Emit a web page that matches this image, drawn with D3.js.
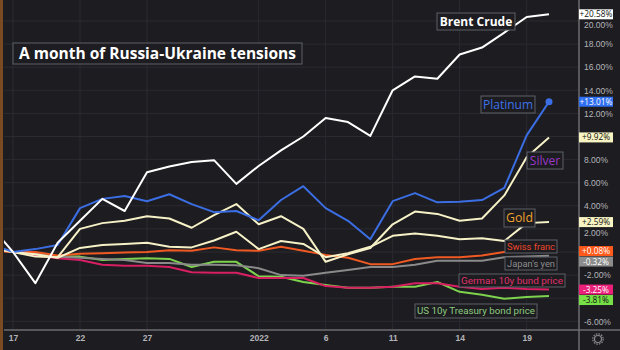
<!DOCTYPE html>
<html>
<head>
<meta charset="utf-8">
<script src="https://cdn.jsdelivr.net/npm/d3@7"></script>
<style>
  body { margin: 0; background: #1c1c21; }
  svg { display: block; }
</style>
</head>
<body>
<div id="chart"></div>
<script>
// trading days, Dec 16 .. Jan 20 (index 0 sits just off the left edge)
const days = ["16","17","20","21","22","23","24","27","28","29","30","31","3","4","5","6","7","10","11","12","13","14","17","18","19","20"];
const tickIdx = [1, 4, 7, 12, 15, 18, 21, 24];
const tickText = ["17", "22", "27", "2022", "6", "11", "14", "19"];
const yTicks = [-6, -4, -2, 0, 2, 4, 6, 8, 10, 12, 14, 16, 18, 20];

// % change
const brent    = [2.25, 0, -2.7, 0.8, 2.7, 4.6, 3.55, 6.9, 7.4, 7.8, 7.95, 5.9, 7.45, 8.8, 10.0, 11.6, 11.25, 10.05, 14.0, 15.2, 15.0, 17.1, 17.7, 19.0, 20.35, 20.58];
const platinum = [0.7, 0, 0.25, 0.6, 3.8, 4.6, 4.85, 4.4, 5.0, 4.15, 3.45, 3.55, 2.75, 4.5, 5.7, 3.8, 2.7, 1.1, 4.4, 5.1, 4.3, 4.35, 4.5, 5.55, 10.1, 13.01];
const silver   = [0.4, 0, -0.4, -0.45, 2.0, 2.5, 2.7, 3.1, 2.9, 2.1, 3.2, 4.15, 2.4, 3.1, 2.0, -0.85, -0.2, 0.35, 2.4, 3.5, 3.3, 2.7, 2.9, 4.9, 8.2, 9.92];
const gold     = [0.3, 0, -0.2, -0.5, 0.35, 0.6, 0.7, 0.8, 0.45, 0.4, 1.0, 1.75, 0.25, 0.95, 0.7, -0.45, -0.1, 0.45, 1.4, 1.6, 1.4, 1.1, 1.2, 0.95, 2.5, 2.59];
const chf      = [0.1, 0, 0, -0.3, -0.15, -0.1, -0.05, 0, 0.15, 0.1, 0.4, 0.15, 0.1, 0.45, 0.1, -0.25, -0.5, -1.05, -1.05, -0.6, -0.45, -0.45, -0.3, 0, 0.05, 0.08];
const jpy      = [0.3, 0, -0.1, -0.4, -0.5, -0.6, -0.7, -0.95, -0.95, -1.1, -1.1, -1.15, -1.4, -2.0, -2.05, -1.8, -1.55, -1.3, -1.3, -1.1, -0.75, -0.75, -0.75, -0.45, -0.4, -0.32];
const bund     = [0.2, 0, -0.3, -0.55, -0.7, -1.1, -1.2, -1.2, -1.3, -1.75, -1.8, -1.8, -2.25, -2.25, -2.25, -2.95, -3.1, -3.1, -3.0, -2.7, -2.7, -3.0, -3.2, -3.1, -3.2, -3.25];
const ust      = [0.2, 0, -0.1, -0.4, -0.4, -0.7, -0.6, -0.55, -0.6, -1.3, -0.85, -0.85, -2.1, -2.15, -2.6, -2.85, -3.1, -3.1, -3.0, -3.0, -2.6, -3.45, -3.7, -4.05, -3.9, -3.81];

const series = [
  { name: "US 10y Treasury bond price", values: ust, color: "#7ed34e", badge: "#76e046", badgeText: "#111" },
  { name: "German 10y bund price", values: bund, color: "#d81f62", badge: "#ea2079", badgeText: "#fff" },
  { name: "Japan's yen", values: jpy, color: "#8a8a8a", badge: "#8c8c8c", badgeText: "#fff" },
  { name: "Swiss franc", values: chf, color: "#f05a22", badge: "#ff5a1c", badgeText: "#fff" },
  { name: "Gold", values: gold, color: "#f6f1c6", badge: "#f7f3c2", badgeText: "#111" },
  { name: "Silver", values: silver, color: "#f6f1c6", badge: "#f7f3c2", badgeText: "#111" },
  { name: "Platinum", values: platinum, color: "#3b6ee3", badge: "#2f6ff0", badgeText: "#fff", dot: true },
  { name: "Brent Crude", values: brent, color: "#ffffff", badge: "#ffffff", badgeText: "#111" }
];

const width = 620;
const height = 350;
const plot = { left: 4, right: 579, top: 0, bottom: 330 };

const svg = d3.select("#chart")
  .append("svg")
  .attr("width", width)
  .attr("height", height)
  .style("font-family", "'Open Sans', sans-serif");

svg.append("rect").attr("width", width).attr("height", height).attr("fill", "#1c1c21");

const x = d3.scaleLinear().domain([1, 25]).range([13, 549]);
const y = d3.scaleLinear().domain([0, 20]).range([252, 21]);

// grid
svg.append("g")
  .selectAll("line")
  .data(yTicks)
  .join("line")
  .attr("x1", plot.left).attr("x2", plot.right)
  .attr("y1", d => y(d)).attr("y2", d => y(d))
  .attr("stroke", "#2a2a30");

svg.append("g")
  .selectAll("line")
  .data(tickIdx)
  .join("line")
  .attr("x1", d => x(d)).attr("x2", d => x(d))
  .attr("y1", plot.top).attr("y2", plot.bottom)
  .attr("stroke", "#2a2a30");

// clip for the lines
svg.append("clipPath").attr("id", "clip")
  .append("rect")
  .attr("x", plot.left).attr("y", plot.top)
  .attr("width", plot.right - plot.left).attr("height", plot.bottom - plot.top);

const line = d3.line()
  .x((d, i) => x(i))
  .y(d => y(d));

const lines = svg.append("g").attr("clip-path", "url(#clip)");

lines.selectAll("path")
  .data(series)
  .join("path")
  .attr("d", d => line(d.values))
  .attr("fill", "none")
  .attr("stroke", d => d.color)
  .attr("stroke-width", 2)
  .attr("stroke-linejoin", "round");

lines.selectAll("circle")
  .data(series.filter(d => d.dot))
  .join("circle")
  .attr("cx", d => x(d.values.length - 1))
  .attr("cy", d => y(d.values[d.values.length - 1]))
  .attr("r", 3.5)
  .attr("fill", d => d.color);

// axis frame
svg.append("line")
  .attr("x1", plot.left).attr("x2", width)
  .attr("y1", plot.bottom).attr("y2", plot.bottom)
  .attr("stroke", "#6c6c70").attr("stroke-width", 1.5);
svg.append("line")
  .attr("x1", plot.right).attr("x2", plot.right)
  .attr("y1", 0).attr("y2", height)
  .attr("stroke", "#6c6c70").attr("stroke-width", 1.5);

// left edge strip
svg.append("rect").attr("x", 0).attr("y", 0).attr("width", 3).attr("height", height).attr("fill", "#7a4a22");

// last-value badges (stacked so they don't collide)
const badges = series.map(s => {
  const v = s.values[s.values.length - 1];
  return { s, v, y: y(v) };
}).sort((a, b) => a.y - b.y);
for (let i = 1; i < badges.length; i++) {
  if (badges[i].y - badges[i - 1].y < 10.5) badges[i].y = badges[i - 1].y + 10.5;
}

// Y axis (right) - labels hidden behind a badge are dropped, half-hidden ones nudged
const shownTicks = yTicks.filter(t => !badges.some(b => Math.abs(b.y - y(t)) < 6));
const yAxis = svg.append("g")
  .attr("transform", `translate(${plot.right},0)`)
  .call(d3.axisRight(y).tickValues(shownTicks).tickSize(0).tickPadding(5)
    .tickFormat(d => d.toFixed(2) + "%"));
yAxis.select(".domain").remove();
yAxis.selectAll("text")
  .attr("fill", "#b4b4b8")
  .style("font-size", "8.5px")
  .attr("dy", d => {
    const near = badges.find(b => Math.abs(b.y - y(d)) < 10);
    return near ? (near.y < y(d) ? "0.75em" : "-0.1em") : "0.32em";
  });

// X axis
const xAxis = svg.append("g")
  .attr("transform", `translate(0,${plot.bottom})`)
  .call(d3.axisBottom(x).tickValues(tickIdx).tickSize(0).tickPadding(5)
    .tickFormat((d, i) => tickText[i]));
xAxis.select(".domain").remove();
xAxis.selectAll("text").attr("fill", "#b4b4b8").style("font-size", "8.5px").style("font-weight", "bold");

// gear icon
svg.append("circle").attr("cx", 598).attr("cy", 339).attr("r", 3.5)
  .attr("fill", "none").attr("stroke", "#8a8a8e").attr("stroke-width", 1.2);
svg.append("circle").attr("cx", 598).attr("cy", 339).attr("r", 5.2)
  .attr("fill", "none").attr("stroke", "#8a8a8e").attr("stroke-width", 1.2)
  .attr("stroke-dasharray", "1.6 1.1");

const bg = svg.append("g").selectAll("g")
  .data(badges)
  .join("g")
  .attr("transform", d => `translate(${plot.right},${d.y})`);
bg.append("rect")
  .attr("x", 0).attr("y", -5).attr("width", 34).attr("height", 10)
  .attr("fill", d => d.s.badge);
bg.append("text")
  .attr("x", 17).attr("y", 3)
  .attr("text-anchor", "middle")
  .attr("fill", d => d.s.badgeText)
  .style("font-size", "8.3px")
  .text(d => (d.v >= 0 ? "+" : "") + d.v.toFixed(2) + "%");

// boxed annotations
function label(text, box, color, size, weight, font) {
  const g = svg.append("g");
  g.append("rect")
    .attr("x", box[0]).attr("y", box[1])
    .attr("width", box[2] - box[0]).attr("height", box[3] - box[1])
    .attr("fill", "#1c1c21")
    .attr("stroke", "#5c6068")
    .attr("stroke-width", 1);
  const t = g.append("text")
    .attr("x", (box[0] + box[2]) / 2)
    .attr("y", (box[1] + box[3]) / 2)
    .attr("dy", "0.35em")
    .attr("text-anchor", "middle")
    .attr("fill", color)
    .style("font-size", size + "px")
    .style("font-weight", weight || "normal")
    .text(text);
  if (font) t.style("font-family", font);
  // shrink to fit inside the box
  const room = box[2] - box[0] - 4;
  const w = t.node().getComputedTextLength();
  if (w > room) t.style("font-size", (size * room / w).toFixed(2) + "px");
}

label("A month of Russia-Ukraine tensions", [13, 43, 302, 64], "#ffffff", 15.5, "bold");
label("Brent Crude", [437, 13, 515, 30], "#ffffff", 12, "bold");
label("Platinum", [481, 96, 535, 113], "#3f72e8", 12);
label("Silver", [527, 152, 563, 169], "#9b38c8", 12);
label("Gold", [504, 209, 535, 227], "#f0a22e", 13);
label("Swiss franc", [505, 240, 557, 253], "#e8472b", 10, null, "Roboto");
label("Japan's yen", [505, 257, 557, 270], "#8e8e8e", 10, null, "Roboto");
label("German 10y bund price", [459, 274, 565, 287], "#e0306a", 10, null, "Roboto");
label("US 10y Treasury bond price", [415, 304, 537, 318], "#8ecb7f", 10.5, null, "Roboto");
</script>
</body>
</html>
